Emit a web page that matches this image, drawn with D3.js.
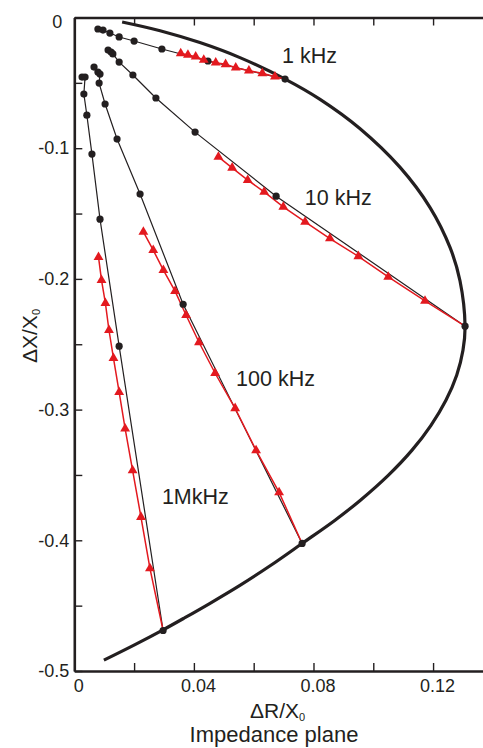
<!DOCTYPE html>
<html lang="en">
<head>
<meta charset="UTF-8">
<title>Impedance plane</title>
<style>
  body { margin: 0; background: #fff; }
  svg text { font-family: "Liberation Sans", Arial, sans-serif; fill: #231f20; }
</style>
</head>
<body>
<svg id="graph"></svg>

<script src="https://d3js.org/d3.v7.min.js"></script>
<script>
// thick locus curve, [dR/X0, dX/X0]
const locus = [
  [0.0160,-0.0034],[0.0287,-0.0101],[0.0420,-0.0192],[0.0554,-0.0307],[0.0705,-0.0471],
  [0.0822,-0.0626],[0.0955,-0.0849],[0.1089,-0.1145],[0.1190,-0.1454],[0.1257,-0.1761],
  [0.1290,-0.2014],[0.1307,-0.2362],[0.1300,-0.2546],[0.1279,-0.2737],[0.1243,-0.2929],
  [0.1193,-0.3120],[0.1129,-0.3312],[0.1050,-0.3503],[0.0956,-0.3695],[0.0871,-0.3848],
  [0.0762,-0.4024],[0.0655,-0.4195],[0.0554,-0.4345],[0.0454,-0.4482],[0.0370,-0.4592],
  [0.0297,-0.4685],[0.0203,-0.4798],[0.0099,-0.4917]
];

// black series (dots)
const black1k = [[0.0079,-0.0088],[0.0096,-0.0096],[0.0119,-0.0119],[0.0150,-0.0149],[0.0200,-0.0180],
  [0.0293,-0.0241],[0.0447,-0.0333],[0.0705,-0.0471]];
const black10k = [[0.0113,-0.0249],[0.0123,-0.0264],[0.0129,-0.0279],[0.0150,-0.0341],[0.0196,-0.0440],
  [0.0273,-0.0616],[0.0404,-0.0877],[0.0675,-0.1367],[0.1307,-0.2362]];
const black100k = [[0.0066,-0.0379],[0.0079,-0.0417],[0.0086,-0.0433],[0.0083,-0.0502],[0.0103,-0.0662],
  [0.0143,-0.0930],[0.0220,-0.1351],[0.0364,-0.2194],[0.0762,-0.4024]];
const black1M = [[0.0026,-0.0456],[0.0036,-0.0456],[0.0032,-0.0586],[0.0042,-0.0747],[0.0059,-0.1045],
  [0.0086,-0.1543],[0.0150,-0.2515],[0.0297,-0.4690]];

// red series (triangles); last point is the locus end, no marker
const red1k = [[0.0356,-0.0274],[0.0380,-0.0287],[0.0406,-0.0300],[0.0433,-0.0325],[0.0473,-0.0346],
  [0.0506,-0.0358],[0.0540,-0.0384],[0.0584,-0.0407],[0.0629,-0.0427],[0.0671,-0.0453],[0.0705,-0.0471]];
const red10k = [[0.0482,-0.1066],[0.0528,-0.1150],[0.0580,-0.1244],[0.0635,-0.1334],[0.0699,-0.1449],
  [0.0772,-0.1564],[0.0855,-0.1691],[0.0950,-0.1827],[0.1050,-0.1985],[0.1173,-0.2168],[0.1307,-0.2362]];
const red100k = [[0.0231,-0.1640],[0.0264,-0.1780],[0.0298,-0.1933],[0.0337,-0.2094],[0.0374,-0.2278],
  [0.0417,-0.2485],[0.0471,-0.2722],[0.0538,-0.2990],[0.0608,-0.3312],[0.0685,-0.3633],[0.0762,-0.4024]];
const red1M = [[0.0081,-0.1834],[0.0091,-0.2010],[0.0104,-0.2186],[0.0116,-0.2393],[0.0131,-0.2607],
  [0.0150,-0.2867],[0.0170,-0.3146],[0.0195,-0.3465],[0.0223,-0.3822],[0.0253,-0.4215],[0.0297,-0.4690]];

const freqLabels = ['1 kHz', '10 kHz', '100 kHz', '1MkHz'];
const freqAnchors = [[0.0695,-0.0348],[0.0771,-0.1436],[0.0541,-0.2822],[0.0293,-0.3725]];

const xTicks = [0, 0.02, 0.04, 0.06, 0.08, 0.10, 0.12];
const xTickLabels = ['0', '', '0.04', '', '0.08', '', '0.12'];
const yTicks = [0, -0.05, -0.1, -0.15, -0.2, -0.25, -0.3, -0.35, -0.4, -0.45, -0.5];
const yTickLabels = ['0', '', '-0.1', '', '-0.2', '', '-0.3', '', '-0.4', '', '-0.5'];

const width = 483;
const height = 748;
const ink = '#231f20';
const red = '#e3191f';

const svg = d3.select('#graph')
  .attr('width', width)
  .attr('height', height);

const x = d3.scaleLinear().domain([0, 0.137]).range([74.3, 483.9]);
const y = d3.scaleLinear().domain([0, -0.5]).range([17.5, 671]);

// axes (frame: left, bottom, top)
const styleAxis = g => {
  g.select('.domain').attr('stroke', ink).attr('stroke-width', 2.6);
  g.selectAll('.tick line').attr('stroke', ink).attr('stroke-width', 1.4);
  g.selectAll('.tick text').attr('font-size', 18).attr('fill', ink);
};

svg.append('g')
  .attr('transform', `translate(0, ${y(-0.5)})`)
  .call(d3.axisBottom(x).tickValues(xTicks).tickSize(-8).tickSizeOuter(0).tickPadding(8)
    .tickFormat((d, i) => xTickLabels[i]))
  .call(styleAxis)
  .selectAll('.tick text').attr('dx', 4);

svg.append('g')
  .attr('transform', `translate(0, ${y(0)})`)
  .call(d3.axisTop(x).tickValues(xTicks).tickSize(-8).tickSizeOuter(0).tickFormat(''))
  .call(styleAxis);

const yAxis = svg.append('g')
  .attr('transform', `translate(${x(0)}, 0)`)
  .call(d3.axisLeft(y).tickValues(yTicks).tickSize(-8).tickSizeOuter(0).tickPadding(5)
    .tickFormat((d, i) => yTickLabels[i]))
  .call(styleAxis);
// the "0" label sits a little lower and further left
yAxis.selectAll('.tick text').filter(d => d === 0).attr('dx', -7).attr('dy', '0.55em');

// axis titles
const xt = svg.append('text')
  .attr('x', 250).attr('y', 718)
  .attr('font-size', 21);
xt.append('tspan').text('\u0394R/X');
xt.append('tspan').text('0').attr('font-size', 11).attr('dy', 3);

const yt = svg.append('text')
  .attr('transform', 'rotate(-90)')
  .attr('x', -363).attr('y', 37)
  .attr('font-size', 21);
yt.append('tspan').text('\u0394X/X');
yt.append('tspan').text('0').attr('font-size', 11).attr('dy', 3);

svg.append('text')
  .attr('x', 274).attr('y', 742)
  .attr('text-anchor', 'middle')
  .attr('font-size', 22)
  .text('Impedance plane');

const line = d3.line().x(d => x(d[0])).y(d => y(d[1]));

// locus
svg.append('path')
  .datum(locus)
  .attr('d', line.curve(d3.curveCatmullRom))
  .attr('fill', 'none')
  .attr('stroke', ink)
  .attr('stroke-width', 3.2);

line.curve(d3.curveLinear);

// black series
const blackSeries = [black1k, black10k, black100k, black1M];
blackSeries.forEach(s => {
  svg.append('path')
    .datum(s)
    .attr('d', line)
    .attr('fill', 'none')
    .attr('stroke', ink)
    .attr('stroke-width', 1.2);
});

// red series
const redSeries = [red1k, red10k, red100k, red1M];
redSeries.forEach(s => {
  svg.append('path')
    .datum(s)
    .attr('d', line)
    .attr('fill', 'none')
    .attr('stroke', red)
    .attr('stroke-width', 1.5);
});

blackSeries.forEach(s => {
  svg.append('g').selectAll('circle')
    .data(s)
    .enter().append('circle')
    .attr('cx', d => x(d[0]))
    .attr('cy', d => y(d[1]))
    .attr('r', 3.6)
    .attr('fill', ink);
});

const tri = d3.symbol().type(d3.symbolTriangle).size(42);
redSeries.forEach(s => {
  svg.append('g').selectAll('path')
    .data(s.slice(0, -1))
    .enter().append('path')
    .attr('d', tri)
    .attr('transform', d => `translate(${x(d[0])}, ${y(d[1])})`)
    .attr('fill', red);
});

// frequency labels
svg.append('g').selectAll('text')
  .data(freqLabels)
  .enter().append('text')
  .attr('x', (d, i) => x(freqAnchors[i][0]))
  .attr('y', (d, i) => y(freqAnchors[i][1]))
  .attr('font-size', 21.5)
  .text(d => d);
</script>
</body>
</html>
